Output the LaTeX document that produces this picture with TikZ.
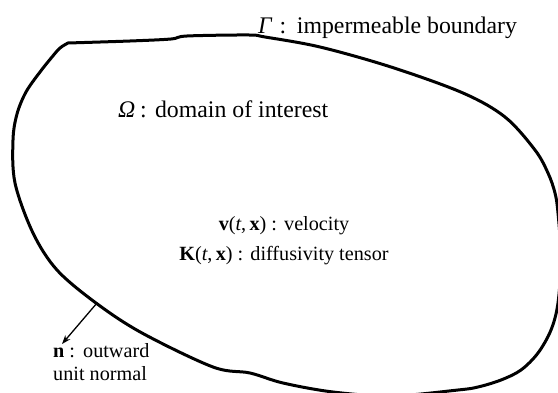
\documentclass[tikz,border=0pt]{standalone}
\usepackage{fontspec}
\setmainfont{Liberation Serif}
\usetikzlibrary{arrows.meta}
\begin{document}
\begin{tikzpicture}[x=1pt,y=1pt,
  big/.style={font=\fontsize{23.8}{28}\selectfont, inner sep=0pt, anchor=base west},
  small/.style={font=\fontsize{20.2}{24}\selectfont, inner sep=0pt},
  boundary/.style={line width=3pt, line join=round, line cap=round},
  normalvec/.style={line width=1.3pt, -{Stealth[length=9pt,width=6.5pt]}}]
\useasboundingbox (0,0) rectangle (558,392);
\begin{scope}
\clip (0,0) rectangle (558,392);
\draw[boundary] plot[smooth, tension=0.55] coordinates {
 (68,349) (130,351) (171,353) (187,356) (249,357) (265,355)
 (320,345) (391,325) (463,299) (505,275) (535,242) (548,219) (555,199) (558,179)
 (561,134) (558,89) (551,62) (538,39) (521,22) (501,12) (478,5) (458,2)
 (392,-4) (333,0) (283,9) (250,19) (213,25) (142,59) (96,89)
 (57,122) (33,159) (15,209) (13,252) (17,278) (26,300) (40,320) (52,335) (60,344) (68,349)};
\end{scope}
\coordinate (nbase) at (97,89);
\coordinate (ntip) at (62,48);
\draw[normalvec] (nbase) -- (ntip);
\node[big] (gammalbl) at (258,359) {\textit{Γ}\hspace{0.3em}:\hspace{0.45em}impermeable boundary};
\node[big] (omegalbl) at (118,275) {\textit{Ω}\hspace{0.2em}:\hspace{0.35em}domain of interest};
\node[small, anchor=base] (vlbl) at (284,162) {\textbf{v}(\textit{t},\,\textbf{x})\hspace{0.25em}:\hspace{0.35em}velocity};
\node[small, anchor=base] (klbl) at (284,132) {\textbf{K}(\textit{t},\,\textbf{x})\hspace{0.25em}:\hspace{0.35em}diffusivity tensor};
\node[small, anchor=base west] (nlbl) at (53,35) {\textbf{n}\hspace{0.25em}:\hspace{0.4em}outward};
\node[small, anchor=base west] (unlbl) at (53,12) {unit normal};
\end{tikzpicture}
\end{document}
